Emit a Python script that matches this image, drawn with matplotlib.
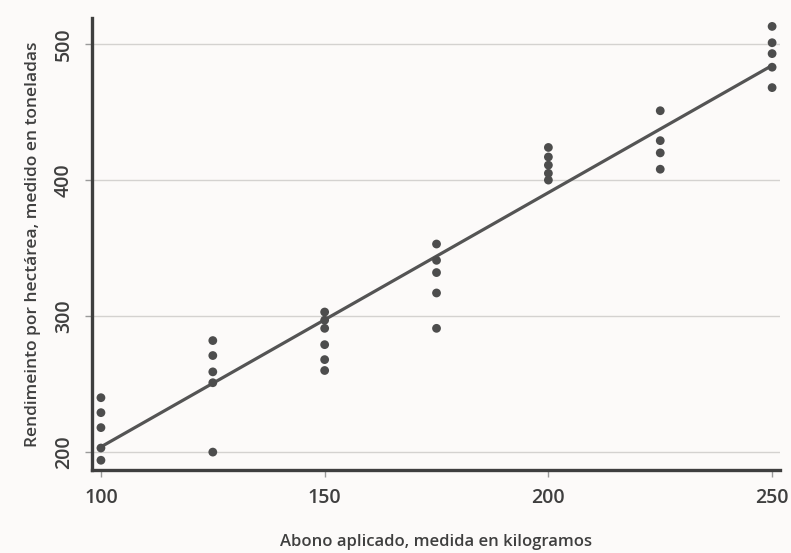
import numpy as np
import matplotlib
matplotlib.use("Agg")
import matplotlib.pyplot as plt

# Abono aplicado (kg) y rendimiento observado (toneladas)
abono_100 = [240, 229, 218, 203, 194]
abono_125 = [282, 271, 259, 251, 200]
abono_150 = [303, 297, 291, 279, 268, 260]
abono_175 = [353, 341, 332, 317, 291]
abono_200 = [424, 417, 411, 405, 400]
abono_225 = [451, 429, 420, 408]
abono_250 = [513, 501, 493, 483, 468]

niveles = [100, 125, 150, 175, 200, 225, 250]
rendimientos = [abono_100, abono_125, abono_150, abono_175,
                abono_200, abono_225, abono_250]

xticks = [100, 150, 200, 250]
yticks = [200, 300, 400, 500]

x = np.concatenate([[n] * len(r) for n, r in zip(niveles, rendimientos)])
y = np.concatenate(rendimientos)

# recta de mínimos cuadrados
pend, corte = np.polyfit(x, y, 1)

plt.rcParams['font.family'] = ['Open Sans', 'DejaVu Sans']

fondo = '#fcfaf9'
gris = '#4d4d4d'
texto = '#3f3f3f'

fig = plt.figure(figsize=(7.91, 5.53), dpi=100, facecolor=fondo)
ax = fig.add_axes([0.1163, 0.150, 0.870, 0.817], facecolor=fondo)

for v in yticks:
    ax.axhline(v, color='#d4d2d0', lw=1.0, zorder=1)

xs = np.array([100, 250])
ax.plot(xs, corte + pend * xs, color='#545454', lw=2.3, zorder=2,
        solid_capstyle='butt')
ax.scatter(x, y, s=40, color=gris, edgecolors='none', zorder=3)

ax.set_xlim(98, 251.8)
ax.set_ylim(186.8, 519)
ax.set_xticks(xticks)
ax.set_yticks(yticks)
ax.set_yticklabels([str(t) for t in yticks], rotation=90, va='center')

for lado in ['top', 'right']:
    ax.spines[lado].set_visible(False)
for lado in ['left', 'bottom']:
    ax.spines[lado].set_linewidth(2.4)
    ax.spines[lado].set_color('#3f3f3f')

ax.tick_params(axis='both', length=5, width=1, color='#9a9a9a',
               labelsize=14, labelcolor=texto, pad=8)
for lbl in ax.get_xticklabels() + ax.get_yticklabels():
    lbl.set_fontweight('semibold')

ax.set_xlabel('Abono aplicado, medida en kilogramos', fontsize=12,
              fontweight='semibold', color=texto, labelpad=19)
ax.set_ylabel('Rendimeinto por hectárea, medido en toneladas', fontsize=12.5,
              fontweight='semibold', color=texto, labelpad=9)

fig.savefig('out.png', dpi=100, facecolor=fondo)
